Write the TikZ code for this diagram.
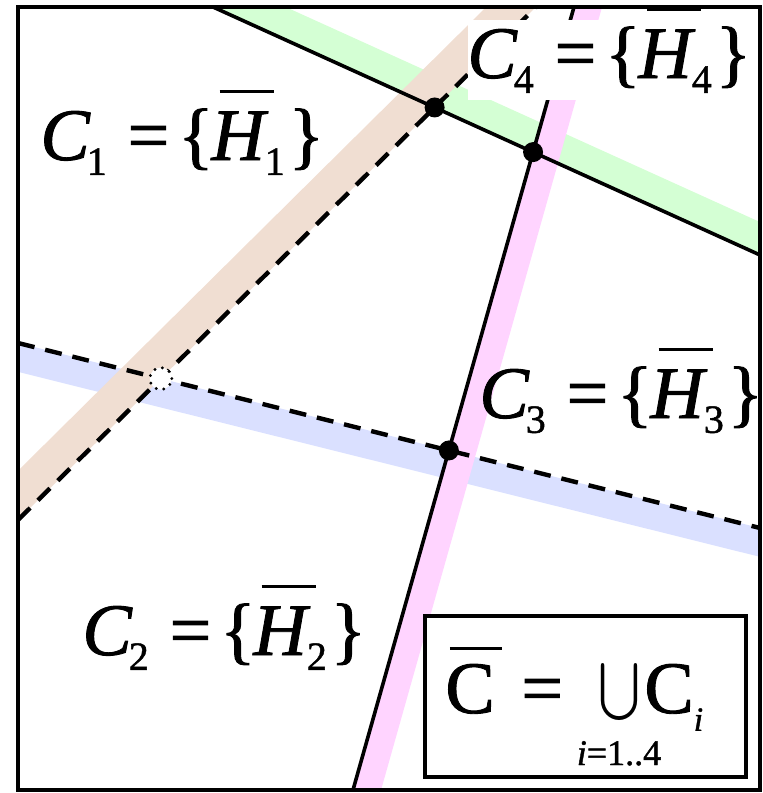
\documentclass[tikz,border=0pt]{standalone}
\usepackage{fontspec}
\setmainfont{Liberation Serif}
\newfontfamily\tnr{Liberation Serif}[FakeBold=1.2]
\usepackage{graphicx}
\usetikzlibrary{calc}
\definecolor{bandgreen}{RGB}{212,255,212}
\definecolor{bandpink}{RGB}{255,212,255}
\definecolor{bandbrown}{RGB}{240,222,210}
\definecolor{bandblue}{RGB}{218,224,255}
\newcommand{\subsz}{\fontsize{20pt}{20pt}\selectfont}
\newcommand{\Hbar}{\rlap{\kern0.11em\rule[0.9em]{0.74em}{0.045em}}{\itshape H}}
\newcommand{\Clab}[1]{{\itshape C}\kern-0.04em\raisebox{-0.2em}{\subsz #1}\kern0.28em=\kern0.12em\{\kern-0.03em\Hbar\kern0.0em\raisebox{-0.2em}{\subsz #1}\kern0.05em\}}
\newcommand{\Cbar}{\rlap{\kern0.06em\rule[0.85em]{0.7em}{0.045em}}C}
\begin{document}
\begin{tikzpicture}[x=0.5pt,y=-0.5pt,
  font=\tnr\fontsize{37pt}{40pt}\selectfont,
  solidline/.style={line width=1.8pt},
  dashline/.style={line width=2.2pt, dash pattern=on 8.5pt off 5.5pt},
  dotmark/.style={fill=black},
  lab/.style={anchor=base west, inner sep=0pt}]
\useasboundingbox (0,0) rectangle (763,793);
% base points of the four lines
\coordinate (g1) at (213,7);  \coordinate (g2) at (760,255);
\coordinate (p1) at (353,790); \coordinate (p2) at (574,7);
\coordinate (b1) at (18,520); \coordinate (b2) at (536,7);
\coordinate (u1) at (18,343); \coordinate (u2) at (760,528);
% extended
\coordinate (G1) at ($(g1)!-0.3!(g2)$); \coordinate (G2) at ($(g1)!1.3!(g2)$);
\coordinate (P1) at ($(p1)!-0.3!(p2)$); \coordinate (P2) at ($(p1)!1.3!(p2)$);
\coordinate (B1) at ($(b1)!-0.3!(b2)$); \coordinate (B2) at ($(b1)!1.3!(b2)$);
\coordinate (U1) at ($(u1)!-0.3!(u2)$); \coordinate (U2) at ($(u1)!1.3!(u2)$);
\begin{scope}
\clip (18,7) rectangle (760,790);
% bands
\draw[bandgreen, line width=15pt] ($(G1)!7.5pt!90:(G2)$) -- ($(G2)!7.5pt!-90:(G1)$);
\draw[bandblue, line width=14pt] ($(U1)!7pt!-90:(U2)$) -- ($(U2)!7pt!90:(U1)$);
\draw[bandpink, line width=13.5pt] ($(P1)!6.75pt!-90:(P2)$) -- ($(P2)!6.75pt!90:(P1)$);
\draw[bandbrown, line width=17.5pt] ($(B1)!8.75pt!90:(B2)$) -- ($(B2)!8.75pt!-90:(B1)$);
% lines
\draw[solidline] (G1) -- (G2);
\draw[solidline] (P1) -- (P2);
\draw[dashline] (b1) -- (B2);
\draw[dashline] (u1) -- (U2);
\end{scope}
% white background of C4 label
\fill[white] (468,20) rectangle (760,100);
% intersections
\coordinate (i14) at (intersection of b1--b2 and g1--g2);
\coordinate (i34) at (intersection of p1--p2 and g1--g2);
\coordinate (i23) at (intersection of u1--u2 and p1--p2);
\coordinate (i12) at (intersection of u1--u2 and b1--b2);
\fill[dotmark] (i14) circle (5pt);
\fill[dotmark] (i34) circle (5pt);
\fill[dotmark] (i23) circle (5pt);
\fill[white] (i12) circle (5.5pt);
\draw[line width=1.6pt, line cap=round, dash pattern=on 0pt off 3.9pt] (i12) circle (5.5pt);
% labels
\node[lab] (l1) at (40,160) {\Clab{1}};
\node[lab] (l4) at (467,78) {\Clab{4}};
\node[lab] (l3) at (479,418) {\Clab{3}};
\node[lab] (l2) at (82,655) {\Clab{2}};
% formula box
\draw[line width=1.8pt, fill=white] (425,616) rectangle (746,777);
\node[lab] (fc) at (445,713) {\Cbar\kern0.36em=};
\node[inner sep=0pt] (cup) at (619,695) {\resizebox*{21pt}{32pt}{$\bigcup$}};
\node[lab] (ci) at (644,713) {C\raisebox{-0.24em}{\fontsize{17pt}{17pt}\selectfont\itshape i}};
\node[anchor=base, inner sep=0pt] (lim) at (619,765) {\fontsize{18pt}{18pt}\selectfont{\itshape i}=1..4};
% frame
\draw[line width=1.8pt] (18,7) rectangle (760,790);
\end{tikzpicture}
\end{document}
